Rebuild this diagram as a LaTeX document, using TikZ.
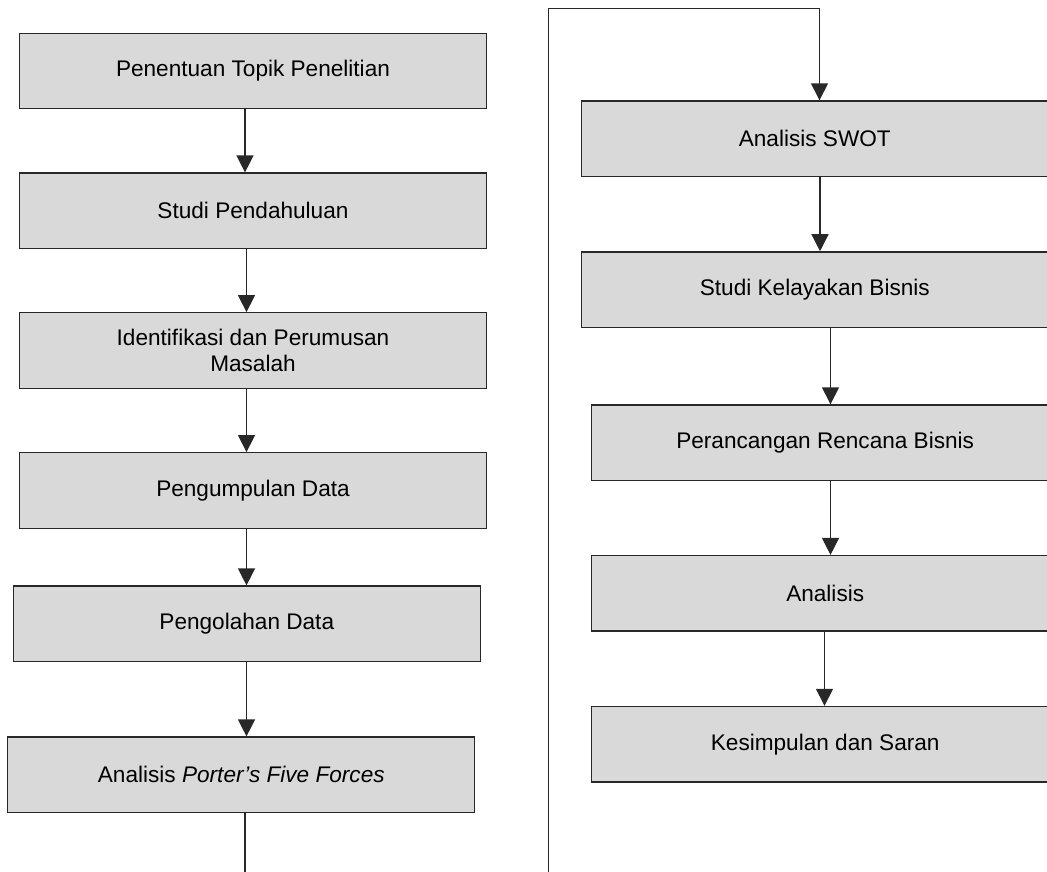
\documentclass[tikz,border=0pt]{standalone}
\usepackage{fontspec}
\setmainfont{Liberation Sans}
\usetikzlibrary{arrows.meta}
\definecolor{boxfill}{RGB}{217,217,217}
\definecolor{boxline}{RGB}{40,40,40}
\tikzset{
  stepbox/.style={draw=boxline, line width=1.3pt, fill=boxfill, rectangle,
    minimum width=467pt, minimum height=75.5pt, inner sep=0pt, align=center,
    font=\fontsize{22.6}{26.5}\selectfont, text=black},
  arr/.style={draw=boxline, line width=1.4pt, -{Triangle[width=17pt,length=17pt]}},
  ln/.style={draw=boxline, line width=1.4pt}
}
\begin{document}
\begin{tikzpicture}[x=1pt,y=-1pt]
\useasboundingbox (0,0) rectangle (1047,871);
% left column
\node[stepbox] (b1) at (253,71) {Penentuan Topik Penelitian};
\node[stepbox] (b2) at (253,210.8) {Studi Pendahuluan};
\node[stepbox] (b3) at (253,350.5) {Identifikasi dan Perumusan\\Masalah};
\node[stepbox] (b4) at (253,490.5) {Pengumpulan Data};
\node[stepbox] (b5) at (246.8,623.8) {Pengolahan Data};
\node[stepbox] (b6) at (241.3,774.8) {Analisis \textit{Porter’s Five Forces}};
% right column
\node[stepbox] (r1) at (814.8,138.7) {Analisis SWOT};
\node[stepbox] (r2) at (814.8,289.6) {Studi Kelayakan Bisnis};
\node[stepbox] (r3) at (825.2,442.7) {Perancangan Rencana Bisnis};
\node[stepbox] (r4) at (825.2,593.3) {Analisis};
\node[stepbox] (r5) at (825.2,744.2) {Kesimpulan dan Saran};
% connector x positions
\coordinate (xa) at (245,0);
\coordinate (xb) at (246.5,0);
\coordinate (xc) at (820,0);
\coordinate (xd) at (830.5,0);
\coordinate (xe) at (824.5,0);
% free ends of the page-break connector
\coordinate (endL) at (245,880);
\coordinate (startR) at (548.3,880);
\coordinate (topL) at (548.3,8.3);
\coordinate (topR) at (819.5,8.3);
% left arrows
\draw[arr] (b1.south -| xa) -- (b2.north -| xa);
\draw[arr] (b2.south -| xb) -- (b3.north -| xb);
\draw[arr] (b3.south -| xb) -- (b4.north -| xb);
\draw[arr] (b4.south -| xb) -- (b5.north -| xb);
\draw[arr] (b5.south -| xb) -- (b6.north -| xb);
\draw[ln] (b6.south -| xa) -- (endL);
% loop to right column
\draw[arr] (startR) -- (topL) -- (topR) -- (r1.north -| topR);
% right arrows
\draw[arr] (r1.south -| xc) -- (r2.north -| xc);
\draw[arr] (r2.south -| xd) -- (r3.north -| xd);
\draw[arr] (r3.south -| xd) -- (r4.north -| xd);
\draw[arr] (r4.south -| xe) -- (r5.north -| xe);
\end{tikzpicture}
\end{document}
